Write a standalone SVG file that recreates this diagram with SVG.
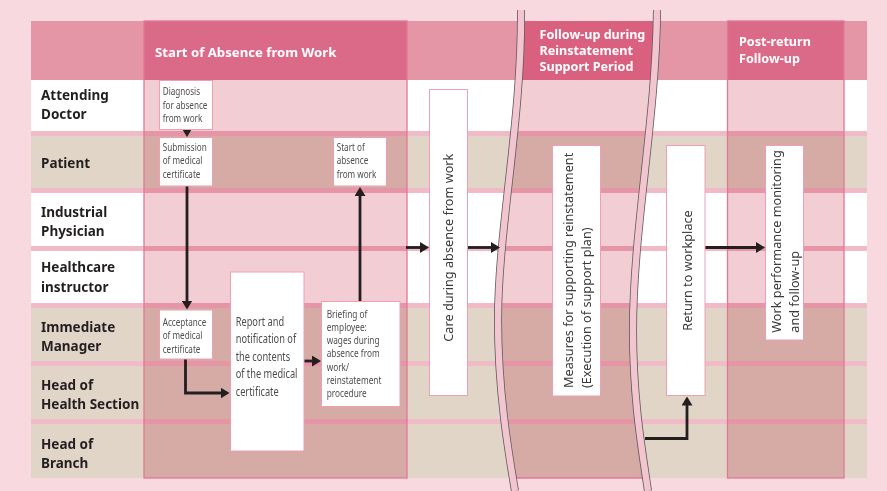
<svg xmlns="http://www.w3.org/2000/svg" width="887" height="491" viewBox="0 0 887 491">
<style>
.bg{fill:#f7d9df}
.hdr{fill:#e496a6}
.wr{fill:#ffffff}
.br{fill:#e1d5c8}
.sep{fill:#f1bac7}
.ov{fill:#f3cdd4;mix-blend-mode:multiply}
.colh{fill:#db6a89}
.colb{fill:none;stroke:#e07896;stroke-width:1.3}
.box{fill:#ffffff;stroke:#eda0b4;stroke-width:1}
.wavo{fill:none;stroke:#5c5c5c;stroke-width:8}
.wavi{fill:none;stroke:#f3c5d0;stroke-width:6.4}
.lbl{font-family:"Noto Sans","Open Sans",sans-serif;font-weight:bold;font-size:13.5px;fill:#231f20}
.ht{font-family:"Noto Sans","Open Sans",sans-serif;font-weight:bold;font-size:12.6px;fill:#ffffff}
.sm{font-family:"Noto Sans","Open Sans",sans-serif;font-size:11px;fill:#4d4d4d}
.md{font-family:"Noto Sans","Open Sans",sans-serif;font-size:12.5px;fill:#4d4d4d}
.rt{font-family:"Noto Sans","Open Sans",sans-serif;font-size:12.7px;fill:#3a3a3a}
.con{fill:none;stroke:#231f20;stroke-width:2.8;marker-end:url(#ah)}
</style>
<defs>
<marker id="ah" markerUnits="userSpaceOnUse" markerWidth="9" markerHeight="11" viewBox="0 0 9 11" refX="6" refY="5.5" orient="auto">
<path d="M0,0 L9,5.5 L0,11 Z" fill="#231f20"/>
</marker>
<clipPath id="fuClip">
<path d="M521,10 C522,120 498,230 498,320 C498,390 508,450 515,491 L648,491 C642,450 633,400 633,330 C633,230 656,120 657,10 Z"/>
</clipPath>
</defs>
<rect class="bg" x="0" y="0" width="887" height="491"/>
<g id="table">
<rect class="hdr" x="31" y="21" width="836" height="59"/>
<rect class="wr" x="31" y="80" width="836" height="51"/>
<rect class="sep" x="31" y="131" width="836" height="5"/>
<rect class="br" x="31" y="136" width="836" height="52"/>
<rect class="sep" x="31" y="188" width="836" height="5"/>
<rect class="wr" x="31" y="193" width="836" height="53"/>
<rect class="sep" x="31" y="246" width="836" height="5"/>
<rect class="wr" x="31" y="251" width="836" height="52"/>
<rect class="sep" x="31" y="303" width="836" height="5"/>
<rect class="br" x="31" y="308" width="836" height="53"/>
<rect class="sep" x="31" y="361" width="836" height="5"/>
<rect class="br" x="31" y="366" width="836" height="53"/>
<rect class="sep" x="31" y="419" width="836" height="5"/>
<rect class="br" x="31" y="424" width="836" height="54"/>
</g>
<g id="columns">
<rect class="ov" x="144" y="80" width="263" height="398"/>
<rect class="colh" x="144" y="21" width="263" height="59"/>
<rect class="colb" x="144" y="21" width="263" height="457"/>
<rect class="ov" x="480" y="80" width="200" height="398" clip-path="url(#fuClip)"/>
<rect x="480" y="21" width="200" height="59" fill="#d9617f" clip-path="url(#fuClip)"/>
<line x1="480" y1="478" x2="680" y2="478" stroke="#e07896" stroke-width="1.3" clip-path="url(#fuClip)"/>
<rect class="ov" x="727.5" y="80" width="116.5" height="398"/>
<rect class="colh" x="727.5" y="21" width="116.5" height="59"/>
<rect class="colb" x="727.5" y="21" width="116.5" height="457"/>
</g>
<g id="breaks">
<path class="wavo" d="M521,10 C522,120 498,230 498,320 C498,390 508,450 515,491"/>
<path class="wavi" d="M521,10 C522,120 498,230 498,320 C498,390 508,450 515,491"/>
<path class="wavo" d="M657,10 C656,120 633,230 633,330 C633,400 642,450 648,491"/>
<path class="wavi" d="M657,10 C656,120 633,230 633,330 C633,400 642,450 648,491"/>
</g>
<g id="labels">
<text class="lbl" x="41" y="100">Attending</text>
<text class="lbl" x="41" y="119">Doctor</text>
<text class="lbl" x="41" y="167.5">Patient</text>
<text class="lbl" x="41" y="217">Industrial</text>
<text class="lbl" x="41" y="236">Physician</text>
<text class="lbl" x="41" y="271.5">Healthcare</text>
<text class="lbl" x="41" y="291.5">instructor</text>
<text class="lbl" x="41" y="331.5">Immediate</text>
<text class="lbl" x="41" y="351">Manager</text>
<text class="lbl" x="41" y="390">Head of</text>
<text class="lbl" x="41" y="408.5">Health Section</text>
<text class="lbl" x="41" y="449">Head of</text>
<text class="lbl" x="41" y="467.5">Branch</text>
<text class="ht" x="155" y="57" style="font-size:13.2px">Start of Absence from Work</text>
<text class="ht" x="539.5" y="38.8">Follow-up during</text>
<text class="ht" x="539.5" y="55">Reinstatement</text>
<text class="ht" x="539.5" y="71.2">Support Period</text>
<text class="ht" x="739" y="46">Post-return</text>
<text class="ht" x="739" y="62.5">Follow-up</text>
</g>
<g id="connectors">
<path class="con" d="M187,129 V134"/>
<path class="con" d="M187,186 V306.5"/>
<path class="con" d="M185.5,359 V393 H226.5"/>
<path class="con" d="M304,361 H318"/>
<path class="con" d="M360,301.5 V190"/>
<path class="con" d="M406,247.5 H426"/>
<path class="con" d="M467.5,247.5 H497"/>
<path class="con" d="M705,247.5 H762"/>
<path class="con" d="M645,438.5 H687 V399.5"/>
</g>
<g id="n-diagnosis">
<rect class="box" x="159.5" y="80.5" width="53" height="49"/>
<g transform="matrix(0.74,0,0,1,162.7,0)">
<text class="sm" x="0" y="95.5">Diagnosis</text>
<text class="sm" x="0" y="108.7">for absence</text>
<text class="sm" x="0" y="122">from work</text>
</g>
</g>
<g id="n-submission">
<rect class="box" x="159.5" y="137.5" width="53" height="48.5"/>
<g transform="matrix(0.74,0,0,1,162.7,0)">
<text class="sm" x="0" y="150.7">Submission</text>
<text class="sm" x="0" y="164.3">of medical</text>
<text class="sm" x="0" y="177.7">certificate</text>
</g>
</g>
<g id="n-start">
<rect class="box" x="333.5" y="137.5" width="53" height="48.5"/>
<g transform="matrix(0.74,0,0,1,336.7,0)">
<text class="sm" x="0" y="150.7">Start of</text>
<text class="sm" x="0" y="164.3">absence</text>
<text class="sm" x="0" y="177.7">from work</text>
</g>
</g>
<g id="n-acceptance">
<rect class="box" x="159.5" y="310" width="53" height="49"/>
<g transform="matrix(0.74,0,0,1,162.7,0)">
<text class="sm" x="0" y="325.7">Acceptance</text>
<text class="sm" x="0" y="339.3">of medical</text>
<text class="sm" x="0" y="352.7">certificate</text>
</g>
</g>
<g id="n-report">
<rect class="box" x="230.5" y="272" width="73.5" height="179"/>
<g transform="matrix(0.74,0,0,1,235.7,0)">
<text class="md" x="0" y="326">Report and</text>
<text class="md" x="0" y="343.3">notification of</text>
<text class="md" x="0" y="361">the contents</text>
<text class="md" x="0" y="377.7">of the medical</text>
<text class="md" x="0" y="396">certificate</text>
</g>
</g>
<g id="n-briefing">
<rect class="box" x="321.5" y="301.5" width="78.5" height="105"/>
<g transform="matrix(0.75,0,0,1,326.7,0)">
<text class="sm" x="0" y="317.7">Briefing of</text>
<text class="sm" x="0" y="330.9">employee:</text>
<text class="sm" x="0" y="344.2">wages during</text>
<text class="sm" x="0" y="357.5">absence from</text>
<text class="sm" x="0" y="370.8">work/</text>
<text class="sm" x="0" y="384.1">reinstatement</text>
<text class="sm" x="0" y="397.4">procedure</text>
</g>
</g>
<g id="n-care">
<rect class="box" x="429.5" y="89.5" width="38" height="306"/>
<text class="rt" transform="translate(453,341.7) rotate(-90)">Care during absence from work</text>
</g>
<g id="n-measures">
<rect class="box" x="552.5" y="145.5" width="48" height="250.5"/>
<text class="rt" transform="translate(572.5,388) rotate(-90)">Measures for supporting reinstatement</text>
<text class="rt" transform="translate(590.5,388) rotate(-90)">(Execution of support plan)</text>
</g>
<g id="n-return">
<rect class="box" x="666.5" y="145.5" width="38.5" height="250"/>
<text class="rt" text-anchor="middle" transform="translate(692,270.5) rotate(-90)">Return to workplace</text>
</g>
<g id="n-work">
<rect class="box" x="765.5" y="145.5" width="38" height="194.5"/>
<text class="rt" transform="translate(780.5,332.7) rotate(-90)">Work performance monitoring</text>
<text class="rt" transform="translate(798.5,332.7) rotate(-90)">and follow-up</text>
</g>
</svg>
